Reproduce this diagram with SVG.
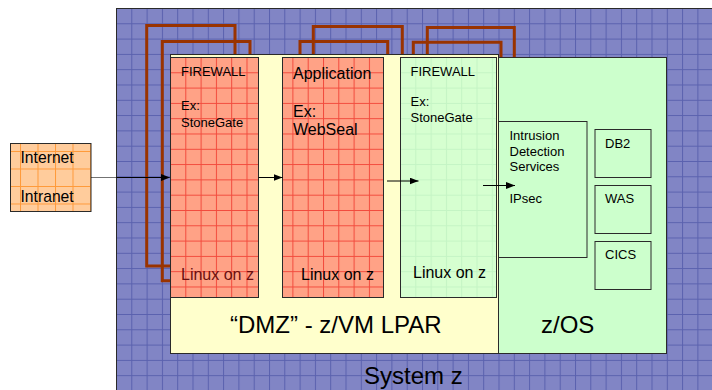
<svg xmlns="http://www.w3.org/2000/svg" width="712" height="390" viewBox="0 0 712 390">
<style>
text{font-family:"Liberation Sans",Arial,sans-serif;fill:#000}
.s13{font-size:13px}
.s16{font-size:16px}
.s24{font-size:24px}
.box{stroke:#2a2a2a;stroke-width:1}
.br{fill:none;stroke:#993300;stroke-width:3}
.cn{fill:none;stroke:#000;stroke-width:1}
</style>
<defs>
<pattern id="pBlue" patternUnits="userSpaceOnUse" x="116" y="8" width="15.3" height="15.3">
<rect width="15.3" height="15.3" fill="#8185c5"/>
<path d="M0,0.5H15.3M0.5,0V15.3" stroke="#5a61ae" stroke-width="1"/>
</pattern>
<pattern id="pRed" patternUnits="userSpaceOnUse" x="170" y="57" width="15.3" height="15.3">
<rect width="15.3" height="15.3" fill="#ffa286"/>
<path d="M0,0.5H15.3M0.5,0V15.3" stroke="#f24a3c" stroke-width="1"/>
</pattern>
<pattern id="pOrange" patternUnits="userSpaceOnUse" x="2.5" y="151" width="17.5" height="17.5">
<rect width="17.5" height="17.5" fill="#ffcc9c"/>
<path d="M0,0.5H17.5M0.5,0V17.5" stroke="#ff9a3a" stroke-width="1"/>
</pattern>
<pattern id="pGreen" patternUnits="userSpaceOnUse" x="400" y="57" width="15.3" height="15.3">
<rect width="15.3" height="15.3" fill="#d6ffd0"/>
<path d="M0,0.5H15.3M0.5,0V15.3" stroke="#c4f4c4" stroke-width="1"/>
</pattern>
<marker id="ah" markerUnits="userSpaceOnUse" markerWidth="9" markerHeight="7" refX="9" refY="3.5" orient="auto">
<path d="M0,0L9,3.5L0,7z" fill="#000"/>
</marker>
</defs>

<g id="system-z">
<rect class="box" x="116.5" y="8.5" width="610" height="400" fill="url(#pBlue)"/>
<text class="s24" x="364" y="384">System z</text>
</g>

<g id="brackets">
<path class="br" d="M172,266H146.7V25.5H235V60"/>
<path class="br" d="M172,280.7H162.3V41.5H250V60"/>
<path class="br" d="M313.3,60V26.5H402.3V60"/>
<path class="br" d="M300,60V41.5H387.7V60"/>
<path class="br" d="M427.3,60V27.5H514.3V60"/>
<path class="br" d="M413.3,60V42.3H501V60"/>
</g>

<g id="dmz-lpar">
<rect class="box" x="170.5" y="54.5" width="328" height="299" fill="#ffffcc"/>
<text class="s24" x="230" y="333">“DMZ” - z/VM LPAR</text>
</g>

<g id="zos">
<rect class="box" x="498.5" y="57.5" width="168" height="296" fill="#ccffcc"/>
<text class="s24" x="541" y="333">z/OS</text>
</g>

<g id="firewall-1">
<rect class="box" x="170.5" y="57.5" width="88" height="240" fill="url(#pRed)"/>
<text class="s13" x="181" y="76">FIREWALL</text>
<text class="s13" x="181" y="110">Ex:</text>
<text class="s13" x="181" y="126.5">StoneGate</text>
<text class="s16" x="181" y="279.5" style="fill:#6a1010">Linux on z</text>
</g>

<g id="application">
<rect class="box" x="282.5" y="57.5" width="101" height="240" fill="url(#pRed)"/>
<text class="s16" x="293" y="78.5">Application</text>
<text class="s16" x="293" y="116.5">Ex:</text>
<text class="s16" x="293" y="135">WebSeal</text>
<text class="s16" x="301" y="279.5">Linux on z</text>
</g>

<g id="firewall-2">
<rect class="box" x="400.5" y="57.5" width="96" height="240" fill="url(#pGreen)"/>
<text class="s13" x="410.5" y="76">FIREWALL</text>
<text class="s13" x="410.5" y="106">Ex:</text>
<text class="s13" x="410.5" y="121.5">StoneGate</text>
<text class="s16" x="413" y="277.5">Linux on z</text>
</g>

<g id="ids">
<rect class="box" x="498.5" y="121.5" width="88.5" height="136" fill="#ccffcc"/>
<text class="s13" x="509.5" y="140">Intrusion</text>
<text class="s13" x="509.5" y="155.6">Detection</text>
<text class="s13" x="509.5" y="171">Services</text>
<text class="s13" x="509.5" y="203.3">IPsec</text>
</g>

<g id="db2">
<rect class="box" x="595" y="129.5" width="56" height="48" fill="#ccffcc"/>
<text class="s13" x="605" y="147.7">DB2</text>
</g>
<g id="was">
<rect class="box" x="595" y="185.5" width="56" height="48" fill="#ccffcc"/>
<text class="s13" x="605" y="203.3">WAS</text>
</g>
<g id="cics">
<rect class="box" x="595" y="241.5" width="56" height="48" fill="#ccffcc"/>
<text class="s13" x="605" y="259.3">CICS</text>
</g>

<g id="internet-intranet">
<rect class="box" x="10.5" y="143.5" width="80.5" height="68" fill="url(#pOrange)"/>
<text x="20.5" y="163.3" style="font-size:15.7px">Internet</text>
<text x="20.5" y="201.7" style="font-size:15.7px">Intranet</text>
</g>

<g id="connectors">
<line class="cn" x1="91" y1="177.5" x2="170" y2="177.5" marker-end="url(#ah)" stroke-opacity="0.55"/>
<line class="cn" x1="117" y1="177.5" x2="162" y2="177.5"/>
<line class="cn" x1="258.5" y1="177.5" x2="282.5" y2="177.5" marker-end="url(#ah)"/>
<line class="cn" x1="387" y1="181" x2="418.5" y2="181" marker-end="url(#ah)"/>
<line class="cn" x1="483" y1="185.5" x2="515" y2="185.5" marker-end="url(#ah)"/>
</g>
</svg>
